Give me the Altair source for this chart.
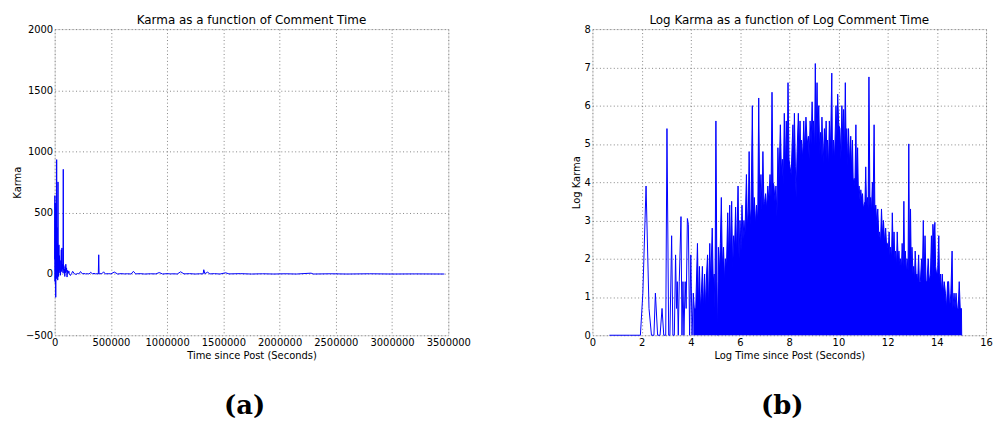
import altair as alt
import pandas as pd

# ---- panel (a): raw karma against seconds since the post ----
TIME_S = [
    0, 2000, 3500, 5000, 6500, 8000, 9500, 11000, 12500, 14000, 16000, 17700,
    19500, 21000, 23000, 25000, 27000, 29500, 31500, 33000, 35000, 38000,
    40000, 43000, 46000, 49000, 52000, 55000, 59000, 62000, 65000, 68000,
    71000, 74000, 76500, 78500, 81000, 84000, 87000, 90000, 93000, 96000,
    99000, 102000, 106000, 110000, 115000, 120000, 126000,
    130000, 140000, 150000, 160000, 175000, 190000, 205000, 215000, 230000,
    245000, 260000, 275000, 290000, 305000, 320000, 335000, 350000, 365000,
    380000, 388000, 391700, 395000, 405000, 420000, 435000, 450000,
    480000, 500000, 530000, 560000, 590000, 620000, 650000, 680000, 700000,
    720000, 760000, 800000, 850000, 900000, 930000, 960000, 1000000, 1030000,
    1060000, 1090000, 1120000, 1150000, 1200000, 1250000, 1290000, 1320000,
    1326000, 1335000, 1360000, 1380000, 1420000, 1470000, 1520000, 1550000,
    1650000, 1750000, 1850000, 1950000, 2050000, 2150000, 2280000, 2300000,
    2450000, 2600000, 2800000, 3000000, 3200000, 3465000,
]
KARMA = [
    120, 640, -60, 580, -80, 420, -190, 300, -40, 540, 60, 934,
    -30, 380, 20, 250, -50, 752, 40, 230, -20, 238,
    10, 150, 30, 110, -10, 60, 198, 20, 213, 40,
    80, 10, 855, 30, 70, 5, 40, -20, 60, 10,
    80, 20, 50, -25, 30, 5, 25,
    4, -12, 3, 22, 2, -3, 5, 1, 20,
    2, 4, 1, 3, 0, 14, 2, 5, 1,
    3, 0, 157, 0, 4, 2, 18, 1,
    3, 1, 16, 0, 3, 1, 2, 0, 22,
    1, 3, 0, 2, 1, 12, 0, 3, 1,
    2, 0, 18, 1, 3, 0, 2, 1,
    35, 3, 15, 1, 3, 0, 10, 1,
    3, 0, 2, 0, 2, 0, 7, 0,
    2, 0, 2, 0, 1, 0,
]

# ---- panel (b): log karma against log seconds ----
LOG_T = [
    0.69, 1.0, 1.5, 1.95, 2.05, 2.18, 2.3, 2.4, 2.5, 2.56, 2.65, 2.75, 2.83,
    2.9, 2.98, 3.03, 3.1, 3.15, 3.22, 3.27, 3.33, 3.38, 3.42, 3.45, 3.49,
    3.53, 3.6, 3.64, 3.68, 3.72, 3.77, 3.81, 3.86, 3.9, 3.95,
    4.0, 4.05, 4.1, 4.14, 4.2, 4.27, 4.31, 4.35, 4.39, 4.43, 4.47, 4.51,
    4.56, 4.6, 4.64, 4.68, 4.72, 4.77, 4.81, 4.87, 4.91, 4.95, 4.98,
    5.02, 5.06, 5.09, 5.12, 5.16, 5.2, 5.24, 5.28, 5.33, 5.37, 5.4, 5.45,
    5.5, 5.54, 5.58, 5.62, 5.66, 5.7, 5.74, 5.78, 5.82, 5.86, 5.92, 5.96,
    6.0, 6.04, 6.08, 6.12, 6.16, 6.2, 6.26, 6.3, 6.34, 6.37, 6.41, 6.45,
    6.5, 6.54, 6.58, 6.63, 6.67, 6.72, 6.76, 6.8, 6.85, 6.89, 6.93, 6.97,
    7.0, 7.04, 7.08, 7.13, 7.17, 7.22, 7.26, 7.3, 7.34, 7.38, 7.42, 7.46,
    7.5, 7.54, 7.58, 7.64, 7.68, 7.72, 7.76, 7.8, 7.84, 7.88, 7.92, 7.95,
    7.99, 8.03, 8.08, 8.12, 8.15, 8.18, 8.21, 8.25, 8.28, 8.32, 8.37, 8.41,
    8.44, 8.47, 8.5, 8.55, 8.59, 8.63, 8.68, 8.73, 8.78, 8.81, 8.85, 8.89,
    8.93, 8.96, 8.99, 9.03, 9.06, 9.09, 9.13, 9.16, 9.2, 9.24, 9.27, 9.3,
    9.33, 9.38, 9.43, 9.46, 9.5, 9.53, 9.56, 9.6, 9.63, 9.68, 9.73, 9.76,
    9.8, 9.84, 9.9, 9.94, 9.97, 10.01, 10.06, 10.1, 10.14, 10.18, 10.21,
    10.24, 10.28, 10.31, 10.34, 10.38, 10.41, 10.45, 10.5, 10.53, 10.57,
    10.6, 10.64, 10.67, 10.71, 10.74, 10.78, 10.81, 10.84, 10.88, 10.91,
    10.95, 10.98, 11.01, 11.04, 11.08, 11.11, 11.14, 11.18, 11.21, 11.24,
    11.28, 11.31, 11.34, 11.38, 11.41, 11.45, 11.48, 11.52, 11.56, 11.6,
    11.64, 11.67, 11.71, 11.75, 11.79, 11.83, 11.88, 11.92, 11.96, 11.99,
    12.03, 12.06, 12.09, 12.12, 12.16, 12.19, 12.23, 12.26, 12.29, 12.32,
    12.36, 12.39, 12.43, 12.46, 12.49, 12.52, 12.56, 12.59, 12.63, 12.66,
    12.69, 12.72, 12.76, 12.79, 12.83, 12.86, 12.89, 12.93, 12.96, 12.99,
    13.03, 13.06, 13.09, 13.12, 13.16, 13.19, 13.22, 13.26, 13.29, 13.33,
    13.38, 13.41, 13.45, 13.48, 13.52, 13.56, 13.6, 13.65, 13.69, 13.74,
    13.78, 13.81, 13.84, 13.88, 13.92, 13.95, 13.99, 14.03, 14.08, 14.11,
    14.15, 14.19, 14.22, 14.26, 14.3, 14.35, 14.39, 14.44, 14.48, 14.52,
    14.57, 14.62, 14.65, 14.7, 14.74, 14.78, 14.83, 14.87, 14.91, 14.95,
    15.0, 15.01, 15.03,
]
LOG_K = [
    0, 0, 0, 0, 1.1, 3.9, 0.7, 0, 0, 1.1, 0, 0, 0.7,
    0, 0, 5.4, 0, 0, 2.6, 0, 0, 2.1, 0.7, 1.4, 0,
    1.4, 3.1, 0, 1.4, 0, 1.4, 0.7, 3.05, 2.9, 0,
    2.1, 0, 1.1, 0.7, 0.7, 2.4, 0.7, 1.8, 0.7, 1.1, 1.8, 0.7,
    1.6, 0.7, 1.6, 2.1, 0.7, 2.4, 1.4, 2.8, 1.4, 1.6, 0.7,
    5.6, 1.4, 0, 2.3, 1.6, 2.4, 3.6, 1.8, 2.3, 1.4, 2.0, 1.8,
    3.2, 1.9, 3.4, 2.0, 3.5, 1.7, 2.6, 2.3, 3.35, 2.1, 3.9, 2.0,
    3.0, 2.2, 3.4, 2.5, 3.0, 2.6, 4.2, 2.8, 3.3, 4.8, 2.9, 3.3,
    6.0, 3.1, 3.6, 2.9, 3.4, 3.0, 6.2, 3.4, 4.2, 3.3, 4.8, 3.4,
    3.5, 3.7, 3.3, 3.9, 3.5, 4.2, 3.6, 6.35, 4.0, 3.9, 3.5, 3.9,
    3.1, 4.9, 4.0, 5.5, 4.3, 4.6, 3.9, 5.8, 4.3, 5.6, 4.5, 6.6,
    4.6, 4.4, 4.2, 5.0, 5.5, 4.6, 5.8, 4.4, 3.6, 4.8, 5.8, 4.9,
    5.6, 4.7, 5.1, 4.6, 5.6, 4.8, 5.7, 5.0, 5.2, 4.6, 5.6, 5.0,
    6.1, 5.3, 5.6, 4.8, 7.1, 5.0, 6.6, 5.2, 6.0, 4.7, 5.3, 4.6,
    5.7, 4.5, 5.4, 4.8, 5.6, 4.6, 5.1, 4.4, 5.6, 4.9, 6.85, 4.5,
    5.1, 4.6, 6.0, 5.2, 6.3, 5.5, 5.4, 4.6, 6.0, 5.0, 5.9,
    4.6, 6.6, 5.0, 5.4, 4.4, 5.4, 4.5, 5.2, 4.3, 5.1,
    4.0, 4.1, 3.9, 5.5, 3.9, 4.9, 3.7, 3.9, 3.5, 3.8,
    3.5, 3.7, 3.3, 3.4, 3.5, 4.4, 3.4, 3.6, 3.3, 6.75,
    3.4, 3.6, 3.2, 4.0, 3.3, 5.5, 3.3, 3.4, 2.9, 3.3,
    2.6, 2.7, 2.4, 3.3, 2.6, 3.0, 2.4, 2.8, 2.3, 2.4,
    2.2, 2.7, 2.1, 2.3, 2.0, 3.2, 2.1, 2.7, 2.0, 2.2,
    1.8, 2.7, 1.9, 2.2, 1.8, 2.0, 1.7, 2.4, 1.8, 3.5,
    1.7, 2.2, 1.6, 2.0, 1.7, 5.0, 1.8, 3.3, 1.7, 2.3,
    1.6, 1.8, 1.4, 2.2, 1.5, 1.6, 1.4, 2.1, 1.4, 1.4,
    2.0, 1.4, 3.0, 1.4, 2.6, 1.4, 1.4, 2.0, 1.4, 1.6,
    2.6, 1.5, 2.9, 2.5, 2.95, 1.8, 1.6, 1.6, 2.6, 1.4,
    1.6, 1.1, 1.6, 1.1, 1.4, 1.1, 0.7, 1.4, 1.4, 0.7,
    1.1, 2.2, 0.7, 1.1, 0.7, 1.1, 0.7, 0.7, 1.4, 0.7,
    0.7, 0, 0,
]

CAPTIONS = ["(a)", "(b)"]
TITLES = ["Karma as a function of Comment Time",
          "Log Karma as a function of Log Comment Time"]

BLUE = "#0000ff"
W, H = 396, 308


def axis(title, values):
    return alt.Axis(
        title=title, values=values, format="d", grid=True,
        gridColor="#666666", gridDash=[1, 2.5], gridWidth=0.8,
        ticks=False, domain=False, labelFlush=False, labelOverlap=False,
        labelPadding=2, titlePadding=3,
        labelFont="DejaVu Sans", labelFontSize=10, labelColor="black",
        titleFont="DejaVu Sans", titleFontSize=10, titleFontWeight="normal",
        titleColor="black",
    )


def caption(label):
    return alt.Chart(pd.DataFrame({"c": [label]})).mark_text(
        font="DejaVu Serif", fontWeight="bold", fontSize=26, color="black",
        baseline="middle",
    ).encode(text="c:N", x=alt.value(W / 2 - 7), y=alt.value(379))


def title(text):
    return alt.TitleParams(text, frame="group", anchor="middle",
                           fontSize=12, fontWeight="normal",
                           font="DejaVu Sans", offset=-3, color="black")


df_a = pd.DataFrame({"t": TIME_S, "karma": KARMA})
df_b = pd.DataFrame({"logt": LOG_T, "logk": LOG_K})

xa = alt.X("t:Q", scale=alt.Scale(domain=[0, 3500000], nice=False, zero=False),
           axis=axis("Time since Post (Seconds)", list(range(0, 3500001, 500000))))
ya = alt.Y("karma:Q", scale=alt.Scale(domain=[-500, 2000], nice=False),
           axis=axis("Karma", list(range(-500, 2001, 500))))

panel_a = alt.layer(
    alt.Chart(df_a).mark_line(color=BLUE, strokeWidth=1).encode(x=xa, y=ya),
    caption(CAPTIONS[0]),
).properties(width=W, height=H, title=title(TITLES[0]))

xb = alt.X("logt:Q", scale=alt.Scale(domain=[0, 16], nice=False, zero=False),
           axis=axis("Log Time since Post (Seconds)", list(range(0, 17, 2))))
yb = alt.Y("logk:Q", scale=alt.Scale(domain=[0, 8], nice=False),
           axis=axis("Log Karma", list(range(0, 9))))

# dense part of the series reads as a solid body under the spikes
body = alt.Chart(df_b).transform_filter("datum.logt >= 4.1").mark_area(
    color=BLUE, opacity=1, strokeWidth=0
).encode(x=xb, y=yb)
trace = alt.Chart(df_b).mark_line(color=BLUE, strokeWidth=1).encode(x=xb, y=yb)

panel_b = alt.layer(body, trace, caption(CAPTIONS[1])).properties(
    width=W, height=H, title=title(TITLES[1]))

chart = alt.hconcat(panel_a, panel_b, spacing=100).properties(
    padding={"left": 12, "top": 12, "right": 0, "bottom": 0}
).configure_view(
    stroke="black", strokeWidth=1
).configure(background="white")

chart.save("out.html", embed_options={"renderer": "svg", "actions": False})
